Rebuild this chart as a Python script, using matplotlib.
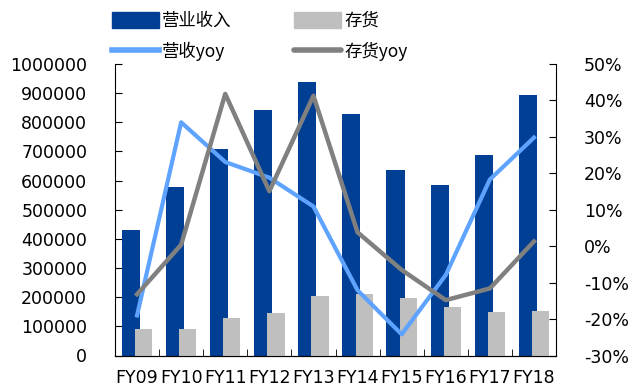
import matplotlib
matplotlib.use("Agg")
import matplotlib.pyplot as plt
import numpy as np
from matplotlib.patches import Patch
from matplotlib.lines import Line2D
from matplotlib.ticker import FuncFormatter, FixedLocator

plt.rcParams['font.family'] = ['DejaVu Sans', 'Noto Sans CJK SC']

categories = ["FY09", "FY10", "FY11", "FY12", "FY13", "FY14", "FY15", "FY16", "FY17", "FY18"]
revenue = [432000, 578000, 710000, 843000, 938000, 829000, 635000, 584000, 688000, 894000]
inventory = [92000, 92000, 127000, 147000, 204000, 210000, 197000, 168000, 149000, 151000]
revenue_yoy = [-19.0, 34.0, 23.1, 18.8, 10.9, -12.1, -24.2, -7.9, 18.3, 29.8]
inventory_yoy = [-13.2, 0.4, 41.8, 15.1, 41.3, 3.8, -6.5, -14.8, -11.6, 1.3]

c_blue = "#003F94"
c_gray = "#BFBFBF"
c_lblue = "#5EA3FF"
c_dgray = "#808080"

fig = plt.figure(figsize=(6.43, 3.91), dpi=100)
ax = fig.add_axes([115/643, 1-355.5/391, (556-115)/643, (355.5-64)/391])
x = np.arange(len(categories))
w = 0.41
ax.bar(x - 0.14, revenue, width=w, color=c_blue, zorder=2)
ax.bar(x + 0.15, inventory, width=w*0.95, color=c_gray, zorder=3)
ax.set_xlim(-0.5, len(categories) - 0.5)
ax.set_ylim(0, 1000000)
ax.set_yticks(np.arange(0, 1000001, 100000))
ax.yaxis.set_major_formatter(FuncFormatter(lambda v, p: f"{int(v)}"))
ax.set_xticks(x)
ax.set_xticklabels(categories)
ax.xaxis.set_minor_locator(FixedLocator(np.arange(-0.5, len(categories), 1.0)))
ax.tick_params(axis='x', which='major', length=0, pad=10, labelsize=12.5)
ax.tick_params(axis='x', which='minor', direction='in', length=5)
ax.tick_params(axis='y', direction='in', length=5, pad=20, labelsize=12.5)
ax.spines['top'].set_visible(False)
ax.spines['right'].set_visible(False)

ax2 = ax.twinx()
ax2.plot(x, revenue_yoy, color=c_lblue, lw=3, zorder=4)
ax2.plot(x, inventory_yoy, color=c_dgray, lw=3.2, zorder=5)
ax2.set_ylim(-30, 50)
ax2.set_yticks(np.arange(-30, 51, 10))
ax2.yaxis.set_major_formatter(FuncFormatter(lambda v, p: f"{int(round(v))}%"))
ax2.tick_params(axis='y', direction='in', length=5, pad=20, labelsize=12.5)
ax2.spines['top'].set_visible(False)
ax2.spines['left'].set_visible(False)

handles = [Patch(color=c_blue), Line2D([], [], color=c_lblue, lw=4),
           Patch(color=c_gray), Line2D([], [], color=c_dgray, lw=4, solid_capstyle='round')]
labels = ["营业收入", "营收yoy", "存货", "存货yoy"]
fig.legend(handles, labels, ncol=2, loc='upper left', bbox_to_anchor=(96/643, 1.01),
           frameon=False, handlelength=2.7, handleheight=1.0,
           handletextpad=0.2, columnspacing=3.6, labelspacing=0.68,
           prop={'family': ['Noto Sans CJK SC'], 'size': 12.5})

fig.savefig("out.png", dpi=100)
